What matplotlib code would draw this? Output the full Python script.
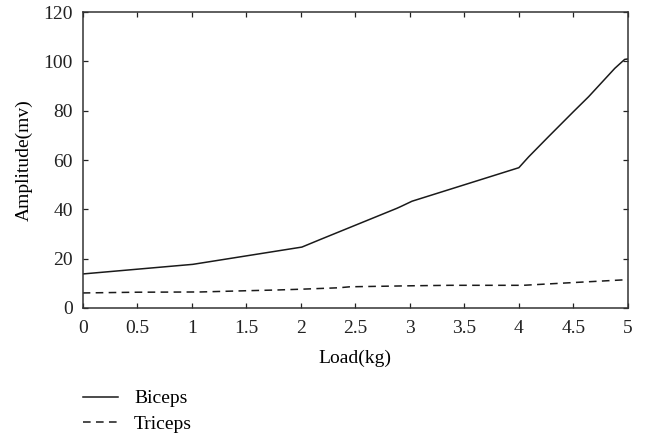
import numpy as np
import matplotlib.pyplot as plt

plt.rcParams['font.family'] = ['Liberation Serif', 'DejaVu Serif']
plt.rcParams['font.size'] = 14

# datos
carga_biceps = [0, 1.01, 2.01, 2.18, 2.88, 2.92, 3.02, 4.0, 4.09, 4.27, 4.5, 4.64, 4.88, 4.97, 5.0]
amp_biceps = [13.8, 17.7, 24.7, 27.8, 40.4, 41.2, 43.3, 56.9, 61.3, 69.4, 79.6, 85.7, 97.2, 100.8, 101.0]

carga_triceps = [0, 0.5, 1.08, 1.5, 1.78, 1.99, 2.35, 2.45, 3.0, 3.37, 4.04, 4.41, 5.0]
amp_triceps = [6.1, 6.4, 6.5, 7.0, 7.3, 7.6, 8.2, 8.6, 9.0, 9.2, 9.2, 10.1, 11.5]

xticks = [0, 0.5, 1, 1.5, 2, 2.5, 3, 3.5, 4, 4.5, 5]
xtick_labels = ['0', '0.5', '1', '1.5', '2', '2.5', '3', '3.5', '4', '4.5', '5']
yticks = [0, 20, 40, 60, 80, 100, 120]

fig = plt.figure(figsize=(6.46, 4.41), dpi=100)
ax = fig.add_axes([0.128, 0.3016, 0.844, 0.671])

ax.plot(carga_biceps, amp_biceps, color='#1a1a1a', lw=1.1, ls='-', label='Biceps')
ax.plot(carga_triceps, amp_triceps, color='#1a1a1a', lw=1.1, ls=(0, (5, 3.5)), label='Triceps')

ax.set_xlim(0, 5)
ax.set_ylim(0, 120)
ax.set_xticks(xticks)
ax.set_xticklabels(xtick_labels)
ax.set_yticks(yticks)
ax.tick_params(direction='in', top=True, right=True, length=3.5, width=0.9,
               labelsize=14, colors='#222222')
ax.tick_params(axis='x', pad=9)
ax.tick_params(axis='y', pad=7)
for s in ax.spines.values():
    s.set_linewidth(1.1)
    s.set_color('#333333')

ax.set_xlabel('Load(kg)', fontsize=14, labelpad=9)
ax.set_ylabel('Amplitude(mv)', fontsize=14, labelpad=8)

fig.legend(loc='upper left', bbox_to_anchor=(0.102, 0.156), frameon=False,
           fontsize=14, handlelength=1.8, handletextpad=0.8, labelspacing=0.42)

fig.savefig('out.png', dpi=100)
